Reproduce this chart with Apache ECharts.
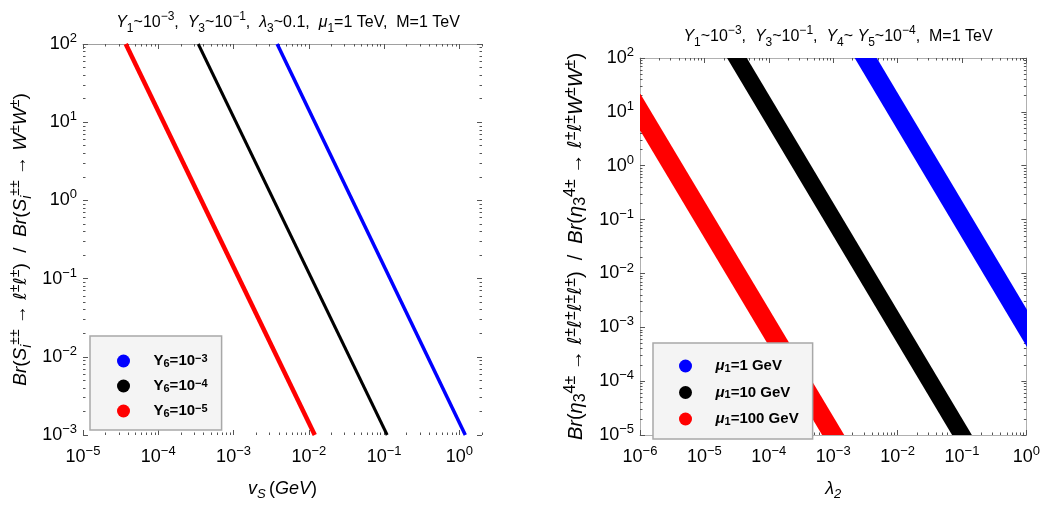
<!DOCTYPE html>
<html><head><meta charset="utf-8">
<script src="https://cdn.jsdelivr.net/npm/echarts@6/dist/echarts.min.js"></script>
<style>html,body{margin:0;padding:0;background:#fff}#c{width:1043px;height:506px}</style>
</head><body><div id="c"></div>
<script>
const F = '"Liberation Sans", Arial, Helvetica, sans-serif';
const FL = '"DejaVu Sans", sans-serif';

// ---------- Left panel data ----------
const leftXTicks = [1e-5, 1e-4, 1e-3, 1e-2, 1e-1, 1];
const leftYTicks = [1e-3, 1e-2, 1e-1, 1, 10, 100];
const leftNames = ['Y6=10-3', 'Y6=10-4', 'Y6=10-5'];
const leftColors = ['#0000ff', '#000000', '#ff0000'];
const leftBlueX = [3.8e-3, 1.2];
const leftBlueY = [100, 1e-3];
const leftBlackX = [3.4e-4, 0.11];
const leftBlackY = [100, 1e-3];
const leftRedX = [3.7e-5, 1.2e-2];
const leftRedY = [100, 1e-3];

// ---------- Right panel data ----------
const rightXTicks = [1e-6, 1e-5, 1e-4, 1e-3, 1e-2, 1e-1, 1];
const rightYTicks = [1e-5, 1e-4, 1e-3, 1e-2, 1e-1, 1, 10, 100];
const rightNames = ['mu1=1 GeV', 'mu1=10 GeV', 'mu1=100 GeV'];
const rightColors = ['#0000ff', '#000000', '#ff0000'];
const rightBlueX = [3.2e-3, 1];
const rightBlueY = [100, 1e-3];
const rightBlackX = [3.2e-5, 0.1];
const rightBlackY = [100, 1e-5];
const rightRedX = [1e-6, 1e-3];
const rightRedY = [10, 1e-5];

const zip = (xs, ys) => xs.map((x, i) => [x, ys[i]]);
function minorsOf(majors, max) {
  const out = [];
  majors.forEach(d => { for (let k = 2; k <= 9; k++) { const v = +(k * d).toPrecision(6); if (v <= max) out.push(v); } });
  return out;
}
const MINUS = '\u2212';
function powLabel(v) {
  const e = Math.round(Math.log10(v));
  return '{b|10}{s|' + String(e).replace('-', MINUS) + '}';
}
const tickRich = {
  b: { fontSize: 18, fontFamily: F, color: '#000', lineHeight: 24 },
  s: { fontSize: 13, fontFamily: F, color: '#000', lineHeight: 12, verticalAlign: 'top' }
};

function makeRich(size, bold, lh, raise, lower, ratio) {
  const w = bold ? 'bold' : 'normal';
  const sm = Math.round(size * (ratio || 0.72));
  const base = { fontFamily: F, color: '#000', fontWeight: w };
  return {
    n: Object.assign({}, base, { fontSize: size, lineHeight: lh }),
    i: Object.assign({}, base, { fontSize: size, lineHeight: lh, fontStyle: 'italic' }),
    l: Object.assign({}, base, { fontFamily: FL, fontSize: size - 1, lineHeight: lh, fontStyle: 'italic' }),
    sub: Object.assign({}, base, { fontSize: sm, lineHeight: lh - 2 * lower, verticalAlign: 'bottom' }),
    isub: Object.assign({}, base, { fontSize: sm, lineHeight: lh - 2 * lower, verticalAlign: 'bottom', fontStyle: 'italic' }),
    sup: Object.assign({}, base, { fontSize: sm, lineHeight: lh - 2 * raise, verticalAlign: 'top' })
  };
}

// axes builder: returns [primary, primaryMinor, opposite, oppositeMinor]
function axisGroup(dim, grid, min, max, majors, o) {
  const minors = minorsOf(majors, max);
  const pos = dim === 'x' ? ['bottom', 'top'] : ['left', 'right'];
  const mk = (position, ticks, len, labels, lineShow) => ({
    type: 'log', logBase: 10, gridIndex: grid, min: min, max: max, position: position,
    axisLine: { show: lineShow, onZero: false, lineStyle: { color: o.lineColor, width: 1 } },
    axisTick: { show: true, inside: true, length: len, customValues: ticks, lineStyle: { color: o.tickColor, width: 1 } },
    axisLabel: labels ? {
      show: true, customValues: majors, margin: o.margin, formatter: powLabel, rich: tickRich
    } : { show: false },
    splitLine: { show: false }, minorTick: { show: false }, minorSplitLine: { show: false },
    name: labels ? o.name : '', nameLocation: 'middle', nameGap: o.nameGap, nameRotate: o.nameRotate,
    nameTextStyle: labels ? { rich: o.nameRich } : {}
  });
  return [
    mk(pos[0], majors, 5, true, o.line0),
    mk(pos[0], minors, 2.5, false, false),
    mk(pos[1], majors, 5, false, o.line1),
    mk(pos[1], minors, 2.5, false, false)
  ];
}

const xNameRich = makeRich(18, false, 24, 6, 4);
const yNameRichL = makeRich(19, false, 26, 7, 4.5, 0.76);
const yNameRichR = makeRich(20, false, 26, 7, 4.5, 0.78);

const leftX = axisGroup('x', 0, 1e-5, 2, leftXTicks, {
  lineColor: '#a0a0a0', tickColor: '#555', margin: 10, line0: false, line1: true,
  name: '{i|v}{isub|S} {n|(}{i|GeV}{n|)}', nameGap: 42, nameRich: xNameRich
});
const leftY = axisGroup('y', 0, 1e-3, 100, leftYTicks, {
  lineColor: '#a0a0a0', tickColor: '#555', margin: 6, line0: false, line1: false,
  name: '{i|Br}{n|(}{i|S}{isub|i}{sup|±±}{n| → }{l|ℓ}{sup|±}{l|ℓ}{sup|±}{n|)  /  }{i|Br}{n|(}{i|S}{isub|i}{sup|±±}{n| → }{i|W}{sup|±}{i|W}{sup|±}{n|)}',
  nameGap: 49, nameRotate: 90, nameRich: yNameRichL
});
const rightX = axisGroup('x', 1, 1e-6, 1, rightXTicks, {
  lineColor: '#b0b0b0', tickColor: '#555', margin: 10, line0: true, line1: true,
  name: '{i|λ}{isub|2}', nameGap: 42, nameRich: xNameRich
});
const rightY = axisGroup('y', 1, 1e-5, 100, rightYTicks, {
  lineColor: '#b0b0b0', tickColor: '#555', margin: 6, line0: true, line1: true,
  name: '{i|Br}{n|(}{i|η}{sub|3}{sup|4±}{n| → }{l|ℓ}{sup|±}{l|ℓ}{sup|±}{l|ℓ}{sup|±}{l|ℓ}{sup|±}{n|)  /  }{i|Br}{n|(}{i|η}{sub|3}{sup|4±}{n| → }{l|ℓ}{sup|±}{l|ℓ}{sup|±}{i|W}{sup|±}{i|W}{sup|±}{n|)}',
  nameGap: 51, nameRotate: 90, nameRich: yNameRichR
});

const legendRich = makeRich(15, true, 16, 7, 4);
const legendLabels = {
  'Y6=10-3': '{n|Y}{sub|6}{n|=10}{sup|' + MINUS + '3}',
  'Y6=10-4': '{n|Y}{sub|6}{n|=10}{sup|' + MINUS + '4}',
  'Y6=10-5': '{n|Y}{sub|6}{n|=10}{sup|' + MINUS + '5}',
  'mu1=1 GeV': '{i|μ}{sub|1}{n|=1 GeV}',
  'mu1=10 GeV': '{i|μ}{sub|1}{n|=10 GeV}',
  'mu1=100 GeV': '{i|μ}{sub|1}{n|=100 GeV}'
};
const legendBase = {
  orient: 'vertical', icon: 'circle', itemWidth: 50, itemHeight: 13,
  backgroundColor: '#f4f4f4', borderColor: '#a8a8a8', borderWidth: 1.5, borderRadius: 0,
  selectedMode: false, formatter: n => legendLabels[n],
  textStyle: { rich: legendRich, lineHeight: 16 }
};

const titleRich = makeRich(16, false, 24, 6.5, 4);
const leftTitle = '{i|Y}{sub|1}{n|~10}{sup|' + MINUS + '3}{n|,  }{i|Y}{sub|3}{n|~10}{sup|' + MINUS + '1}{n|,  }{i|λ}{sub|3}{n|~0.1,  }{i|μ}{sub|1}{n|=1 TeV,  M=1 TeV}';
const rightTitle = '{i|Y}{sub|1}{n|~10}{sup|' + MINUS + '3}{n|,  }{i|Y}{sub|3}{n|~10}{sup|' + MINUS + '1}{n|,  }{i|Y}{sub|4}{n|~ }{i|Y}{sub|5}{n|~10}{sup|' + MINUS + '4}{n|,  M=1 TeV}';

const series = [];
const addLine = (name, color, data, width) => series.push({
  name: name, type: 'line', data: data, xAxisIndex: 0, yAxisIndex: 0, color: color,
  showSymbol: false, symbol: 'circle', clip: true, animation: false,
  lineStyle: { color: color, width: width, cap: 'butt' }
});
// a band of constant pixel thickness along the segment joining the two points, clipped to the plot frame
const addBand = (name, color, xs, ys, width) => series.push({
  name: name, type: 'custom', xAxisIndex: 4, yAxisIndex: 4, color: color, clip: true, animation: false,
  itemStyle: { color: color },
  data: [[xs[0], ys[0], xs[1], ys[1]]],
  encode: { x: [0, 2], y: [1, 3] },
  renderItem: (params, api) => {
    const p1 = api.coord([api.value(0), api.value(1)]);
    const p2 = api.coord([api.value(2), api.value(3)]);
    const dx = p2[0] - p1[0], dy = p2[1] - p1[1];
    const L = Math.hypot(dx, dy);
    const ux = dx / L, uy = dy / L, nx = -uy, ny = ux;
    const e = 40, h = width / 2;
    const a = [p1[0] - ux * e, p1[1] - uy * e], b = [p2[0] + ux * e, p2[1] + uy * e];
    return {
      type: 'polygon',
      shape: { points: [[a[0] + nx * h, a[1] + ny * h], [b[0] + nx * h, b[1] + ny * h], [b[0] - nx * h, b[1] - ny * h], [a[0] - nx * h, a[1] - ny * h]] },
      style: { fill: color }
    };
  }
});
addLine(leftNames[0], leftColors[0], zip(leftBlueX, leftBlueY), 3.5);
addLine(leftNames[1], leftColors[1], zip(leftBlackX, leftBlackY), 3);
addLine(leftNames[2], leftColors[2], zip(leftRedX, leftRedY), 4.5);
addBand(rightNames[0], rightColors[0], rightBlueX, rightBlueY, 19);
addBand(rightNames[1], rightColors[1], rightBlackX, rightBlackY, 17);
addBand(rightNames[2], rightColors[2], rightRedX, rightRedY, 19);

const chart = echarts.init(document.getElementById('c'), null, { renderer: 'canvas' });
chart.setOption({
  animation: false,
  backgroundColor: '#ffffff',
  title: [
    { text: leftTitle, left: 283, top: 6, textAlign: 'center', textStyle: { rich: titleRich } },
    { text: rightTitle, left: 833, top: 20, textAlign: 'center', textStyle: { rich: titleRich } }
  ],
  grid: [
    { left: 83, top: 44, width: 399, height: 400 },
    { left: 640, top: 58, width: 387, height: 386 }
  ],
  xAxis: leftX.concat(rightX),
  yAxis: leftY.concat(rightY),
  legend: [
    Object.assign({}, legendBase, { data: leftNames, left: 90, top: 336, padding: [17, 14, 11, 27], itemGap: 9 }),
    Object.assign({}, legendBase, { data: rightNames, left: 653, top: 343, padding: [15, 14, 12, 26], itemGap: 10.5 })
  ],
  series: series
});
</script>
</body></html>
